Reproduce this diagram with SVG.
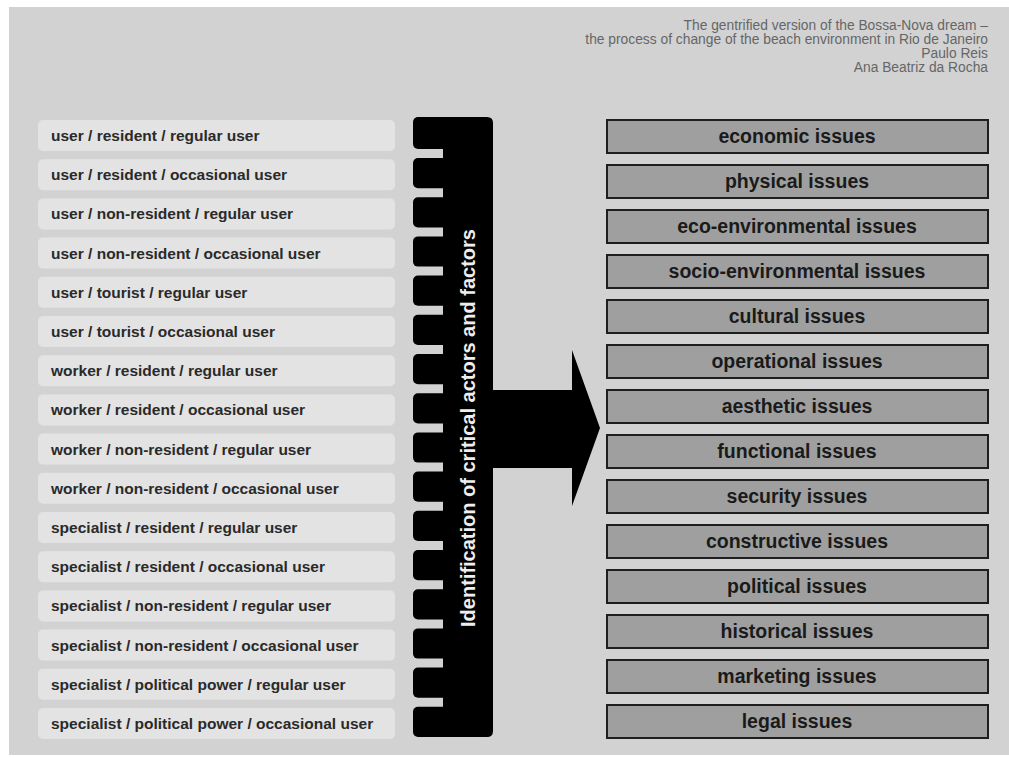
<svg xmlns="http://www.w3.org/2000/svg" width="1009" height="758" viewBox="0 0 1009 758">
<style>
.bg{fill:#d2d2d2}
.lbox{fill:#e3e3e3}
.ltxt{font-family:"Liberation Sans",Arial,sans-serif;font-weight:bold;font-size:15.5px;fill:#2a2a2a}
.rbox{fill:#9f9f9f;stroke:#1e1e1e;stroke-width:2}
.rtxt{font-family:"Liberation Sans",Arial,sans-serif;font-weight:bold;font-size:19.5px;fill:#1a1a1a;text-anchor:middle}
.hdr{font-family:"Liberation Sans",Arial,sans-serif;font-size:13.8px;fill:#666;text-anchor:end}
.blk{fill:#000}
.vtxt{font-family:"Liberation Sans",Arial,sans-serif;font-weight:bold;font-size:20px;fill:#eee;text-anchor:middle}
</style>
<rect x="0" y="0" width="1009" height="758" fill="#ffffff"/>
<rect class="bg" x="9" y="7" width="1000" height="748"/>

<g id="header">
<text class="hdr" x="988" y="30">The gentrified version of the Bossa-Nova dream –</text>
<text class="hdr" x="988" y="44">the process of change of the beach environment in Rio de Janeiro</text>
<text class="hdr" x="988" y="58">Paulo Reis</text>
<text class="hdr" x="988" y="72">Ana Beatriz da Rocha</text>
</g>

<g id="actors">
<g id="a1"><rect class="lbox" x="38" y="120" width="357" height="31" rx="5"/><text class="ltxt" x="51" y="141">user / resident / regular user</text></g>
<g id="a2"><rect class="lbox" x="38" y="159.2" width="357" height="31" rx="5"/><text class="ltxt" x="51" y="180.2">user / resident / occasional user</text></g>
<g id="a3"><rect class="lbox" x="38" y="198.4" width="357" height="31" rx="5"/><text class="ltxt" x="51" y="219.4">user / non-resident / regular user</text></g>
<g id="a4"><rect class="lbox" x="38" y="237.6" width="357" height="31" rx="5"/><text class="ltxt" x="51" y="258.6">user / non-resident / occasional user</text></g>
<g id="a5"><rect class="lbox" x="38" y="276.8" width="357" height="31" rx="5"/><text class="ltxt" x="51" y="297.8">user / tourist / regular user</text></g>
<g id="a6"><rect class="lbox" x="38" y="316" width="357" height="31" rx="5"/><text class="ltxt" x="51" y="337">user / tourist / occasional user</text></g>
<g id="a7"><rect class="lbox" x="38" y="355.2" width="357" height="31" rx="5"/><text class="ltxt" x="51" y="376.2">worker / resident / regular user</text></g>
<g id="a8"><rect class="lbox" x="38" y="394.4" width="357" height="31" rx="5"/><text class="ltxt" x="51" y="415.4">worker / resident / occasional user</text></g>
<g id="a9"><rect class="lbox" x="38" y="433.6" width="357" height="31" rx="5"/><text class="ltxt" x="51" y="454.6">worker / non-resident / regular user</text></g>
<g id="a10"><rect class="lbox" x="38" y="472.8" width="357" height="31" rx="5"/><text class="ltxt" x="51" y="493.8">worker / non-resident / occasional user</text></g>
<g id="a11"><rect class="lbox" x="38" y="512" width="357" height="31" rx="5"/><text class="ltxt" x="51" y="533">specialist / resident / regular user</text></g>
<g id="a12"><rect class="lbox" x="38" y="551.2" width="357" height="31" rx="5"/><text class="ltxt" x="51" y="572.2">specialist / resident / occasional user</text></g>
<g id="a13"><rect class="lbox" x="38" y="590.4" width="357" height="31" rx="5"/><text class="ltxt" x="51" y="611.4">specialist / non-resident / regular user</text></g>
<g id="a14"><rect class="lbox" x="38" y="629.6" width="357" height="31" rx="5"/><text class="ltxt" x="51" y="650.6">specialist / non-resident / occasional user</text></g>
<g id="a15"><rect class="lbox" x="38" y="668.8" width="357" height="31" rx="5"/><text class="ltxt" x="51" y="689.8">specialist / political power / regular user</text></g>
<g id="a16"><rect class="lbox" x="38" y="708" width="357" height="31" rx="5"/><text class="ltxt" x="51" y="729">specialist / political power / occasional user</text></g>
</g>

<g id="comb">
<path class="blk" d="M443,117 H487 Q493,117 493,123 V731 Q493,737 487,737 H443 Z"/>
<rect class="blk" x="413" y="117" width="40" height="32" rx="5"/>
<rect class="blk" x="413" y="158" width="40" height="30.2" rx="5"/>
<rect class="blk" x="413" y="197.2" width="40" height="30.2" rx="5"/>
<rect class="blk" x="413" y="236.4" width="40" height="30.2" rx="5"/>
<rect class="blk" x="413" y="275.6" width="40" height="30.2" rx="5"/>
<rect class="blk" x="413" y="314.8" width="40" height="30.2" rx="5"/>
<rect class="blk" x="413" y="354" width="40" height="30.2" rx="5"/>
<rect class="blk" x="413" y="393.2" width="40" height="30.2" rx="5"/>
<rect class="blk" x="413" y="432.4" width="40" height="30.2" rx="5"/>
<rect class="blk" x="413" y="471.6" width="40" height="30.2" rx="5"/>
<rect class="blk" x="413" y="510.8" width="40" height="30.2" rx="5"/>
<rect class="blk" x="413" y="550" width="40" height="30.2" rx="5"/>
<rect class="blk" x="413" y="589.2" width="40" height="30.2" rx="5"/>
<rect class="blk" x="413" y="628.4" width="40" height="30.2" rx="5"/>
<rect class="blk" x="413" y="667.6" width="40" height="30.2" rx="5"/>
<rect class="blk" x="413" y="706.8" width="40" height="30.2" rx="5"/>
<text class="vtxt" transform="translate(475,428) rotate(-90)">Identification of critical actors and factors</text>
</g>

<g id="connectors">
<path class="blk" d="M492,390 H572 V350 L600,428 L572,506 V468 H492 Z"/>
</g>

<g id="issues">
<g id="i1"><rect class="rbox" x="607" y="120" width="381" height="33"/><text class="rtxt" x="797" y="143">economic issues</text></g>
<g id="i2"><rect class="rbox" x="607" y="165" width="381" height="33"/><text class="rtxt" x="797" y="188">physical issues</text></g>
<g id="i3"><rect class="rbox" x="607" y="210" width="381" height="33"/><text class="rtxt" x="797" y="233">eco-environmental issues</text></g>
<g id="i4"><rect class="rbox" x="607" y="255" width="381" height="33"/><text class="rtxt" x="797" y="278">socio-environmental issues</text></g>
<g id="i5"><rect class="rbox" x="607" y="300" width="381" height="33"/><text class="rtxt" x="797" y="323">cultural issues</text></g>
<g id="i6"><rect class="rbox" x="607" y="345" width="381" height="33"/><text class="rtxt" x="797" y="368">operational issues</text></g>
<g id="i7"><rect class="rbox" x="607" y="390" width="381" height="33"/><text class="rtxt" x="797" y="413">aesthetic issues</text></g>
<g id="i8"><rect class="rbox" x="607" y="435" width="381" height="33"/><text class="rtxt" x="797" y="458">functional issues</text></g>
<g id="i9"><rect class="rbox" x="607" y="480" width="381" height="33"/><text class="rtxt" x="797" y="503">security issues</text></g>
<g id="i10"><rect class="rbox" x="607" y="525" width="381" height="33"/><text class="rtxt" x="797" y="548">constructive issues</text></g>
<g id="i11"><rect class="rbox" x="607" y="570" width="381" height="33"/><text class="rtxt" x="797" y="593">political issues</text></g>
<g id="i12"><rect class="rbox" x="607" y="615" width="381" height="33"/><text class="rtxt" x="797" y="638">historical issues</text></g>
<g id="i13"><rect class="rbox" x="607" y="660" width="381" height="33"/><text class="rtxt" x="797" y="683">marketing issues</text></g>
<g id="i14"><rect class="rbox" x="607" y="705" width="381" height="33"/><text class="rtxt" x="797" y="728">legal issues</text></g>
</g>
</svg>
